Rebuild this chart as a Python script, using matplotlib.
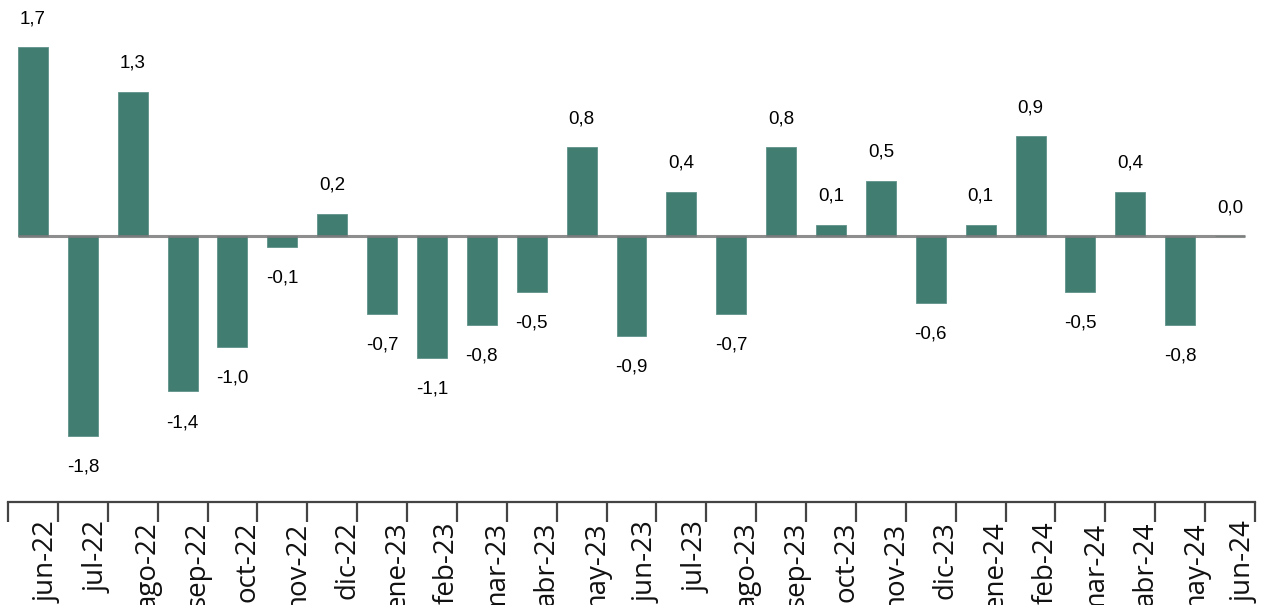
import matplotlib.pyplot as plt
import matplotlib.transforms as mtransforms
import numpy as np

months = ["jun-22", "jul-22", "ago-22", "sep-22", "oct-22", "nov-22", "dic-22",
          "ene-23", "feb-23", "mar-23", "abr-23", "may-23", "jun-23", "jul-23",
          "ago-23", "sep-23", "oct-23", "nov-23", "dic-23", "ene-24", "feb-24",
          "mar-24", "abr-24", "may-24", "jun-24"]
values = [1.7, -1.8, 1.3, -1.4, -1.0, -0.1, 0.2, -0.7, -1.1, -0.8, -0.5, 0.8,
          -0.9, 0.4, -0.7, 0.8, 0.1, 0.5, -0.6, 0.1, 0.9, -0.5, 0.4, -0.8, 0.0]

bar_color = "#417d71"

fig = plt.figure(figsize=(12.63, 6.05), dpi=100)
ax = fig.add_axes([8 / 1263, 1 - 502 / 605, 1247 / 1263, 502 / 605])

x = np.arange(len(months))
ax.bar(x, values, width=0.6, color=bar_color, edgecolor="#5f938a", linewidth=0.6, zorder=2)
ax.plot([-0.3, len(months) - 1 + 0.3], [0, 0], color="#7a7a7a", lw=2.2, alpha=0.85,
        solid_capstyle="butt", zorder=3)

for xi, v in zip(x, values):
    label = f"{v:.1f}".replace(".", ",")
    off = 20.5 if v >= 0 else -22.5
    ax.annotate(label, (xi, v), xytext=(0, off), textcoords="offset points",
                ha="center", va="center", fontsize=13.5, family="Liberation Sans")

ax.set_xlim(-0.5, len(months) - 0.5)
ax.set_ylim(-(502 - 236) / 111, 236 / 111)
ax.set_yticks([])
for s in ["top", "right", "left"]:
    ax.spines[s].set_visible(False)
ax.spines["bottom"].set_color("#444444")
ax.spines["bottom"].set_linewidth(1.6)

# boundary ticks, labels at the centres
ax.set_xticks(np.arange(len(months) + 1) - 0.5)
ax.set_xticklabels([])
ax.tick_params(axis="x", which="major", length=14.5, width=1.6, color="#444444")
ax.set_xticks(x, minor=True)
ax.set_xticklabels(months, minor=True, rotation=90, fontsize=20, family="Open Sans",
                   color="#111111")
ax.tick_params(axis="x", which="minor", length=0, pad=14)
shift = mtransforms.ScaledTranslation(15 / 100, 0, fig.dpi_scale_trans)
for lab in ax.get_xticklabels(minor=True):
    lab.set_transform(lab.get_transform() + shift)

fig.savefig("out.png", dpi=100)
